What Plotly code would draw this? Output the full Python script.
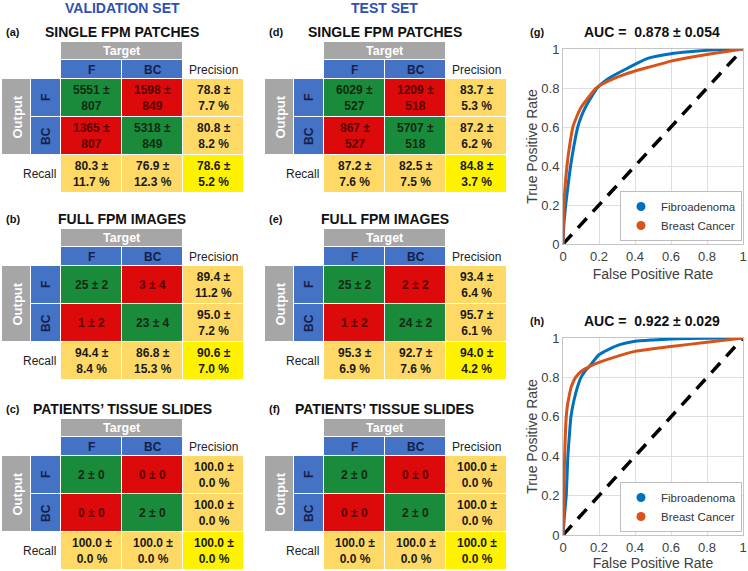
import plotly.graph_objects as go

W, H = 748, 571
FONT = "Liberation Sans, Arial, sans-serif"

# ---------------- data ----------------
set_titles = ["VALIDATION SET", "TEST SET"]
panel_letters = ["(a)", "(b)", "(c)", "(d)", "(e)", "(f)"]
panel_titles = ["SINGLE FPM PATCHES", "FULL FPM IMAGES", "PATIENTS\u2019 TISSUE SLIDES",
                "SINGLE FPM PATCHES", "FULL FPM IMAGES", "PATIENTS\u2019 TISSUE SLIDES"]
class_labels = ["F", "BC"]

cm_mean = [[[5551, 1598], [1365, 5318]],
           [[25, 3], [1, 23]],
           [[2, 0], [0, 2]],
           [[6029, 1209], [867, 5707]],
           [[25, 2], [1, 24]],
           [[2, 0], [0, 2]]]
cm_std = [[[807, 849], [807, 849]],
          [[2, 4], [2, 4]],
          [[0, 0], [0, 0]],
          [[527, 518], [527, 518]],
          [[2, 2], [2, 2]],
          [[0, 0], [0, 0]]]
precision_mean = [[78.8, 80.8], [89.4, 95.0], [100.0, 100.0], [83.7, 87.2], [93.4, 95.7], [100.0, 100.0]]
precision_std = [[7.7, 8.2], [11.2, 7.2], [0.0, 0.0], [5.3, 6.2], [6.4, 6.1], [0.0, 0.0]]
recall_mean = [[80.3, 76.9], [94.4, 86.8], [100.0, 100.0], [87.2, 82.5], [95.3, 92.7], [100.0, 100.0]]
recall_std = [[11.7, 12.3], [8.4, 15.3], [0.0, 0.0], [7.6, 7.5], [6.9, 7.6], [0.0, 0.0]]
accuracy_mean = [78.6, 90.6, 100.0, 84.8, 94.0, 100.0]
accuracy_std = [5.2, 7.0, 0.0, 3.7, 4.2, 0.0]

roc_titles = ["AUC =\u00a0 0.878 \u00b1 0.054", "AUC =\u00a0 0.922 \u00b1 0.029"]
roc_letters = ["(g)", "(h)"]
series_names = ["Fibroadenoma", "Breast Cancer"]

g_fib_fpr = [0, 0.005, 0.015, 0.028, 0.042, 0.06, 0.082, 0.10, 0.124, 0.155, 0.19, 0.255, 0.355, 0.47, 0.6, 0.7, 0.8, 0.9, 1.0]
g_fib_tpr = [0, 0.10, 0.20, 0.30, 0.40, 0.50, 0.60, 0.65, 0.70, 0.75, 0.80, 0.85, 0.90, 0.952, 0.976, 0.986, 0.993, 0.998, 1.0]
g_bc_fpr = [0, 0.002, 0.005, 0.012, 0.022, 0.036, 0.055, 0.075, 0.10, 0.14, 0.185, 0.25, 0.32, 0.40, 0.47, 0.6, 0.7, 0.8, 0.9, 1.0]
g_bc_tpr = [0, 0.10, 0.20, 0.30, 0.40, 0.50, 0.60, 0.65, 0.70, 0.75, 0.80, 0.835, 0.862, 0.887, 0.905, 0.938, 0.956, 0.972, 0.986, 1.0]

h_fib_fpr = [0, 0.008, 0.018, 0.027, 0.035, 0.044, 0.06, 0.08, 0.10, 0.125, 0.146, 0.2, 0.3, 0.4, 0.5, 0.6, 0.8, 1.0]
h_fib_tpr = [0, 0.10, 0.20, 0.40, 0.50, 0.60, 0.68, 0.75, 0.80, 0.835, 0.855, 0.915, 0.961, 0.983, 0.99, 0.995, 0.999, 1.0]
h_bc_fpr = [0, 0.003, 0.005, 0.009, 0.018, 0.025, 0.033, 0.045, 0.07, 0.10, 0.146, 0.2, 0.3, 0.4, 0.6, 0.8, 1.0]
h_bc_tpr = [0, 0.10, 0.20, 0.40, 0.60, 0.66, 0.70, 0.75, 0.80, 0.83, 0.855, 0.876, 0.907, 0.932, 0.957, 0.978, 1.0]

chance_x = [0, 1]
chance_y = [0, 1]

roc_ticks = [0, 0.2, 0.4, 0.6, 0.8, 1]
roc_tick_text = ["0", "0.2", "0.4", "0.6", "0.8", "1"]

# ---------------- layout constants ----------------
COL_EDGES = [0, 29, 59, 120, 181, 242]
ROW_EDGES = [0, 18, 37, 75, 113, 151]
panel_origin = [(2, 42), (2, 229), (2, 419), (265, 42), (265, 229), (265, 419)]

GRAY, BLUE, GREEN, RED, LYEL, YEL = 0, 1, 2, 3, 4, 5
cat_colors = ["#A6A6A6", "#4472C4", "#1A8A3B", "#DC0A0A", "#FFD966", "#FFF200"]
colorscale = []
for k, c in enumerate(cat_colors):
    colorscale += [[k / 6, c], [(k + 1) / 6, c]]

C_BLUE = "#0072BD"
C_ORANGE = "#D95319"


def px(x):
    return x / W


def py(y):
    return 1 - y / H


def cnt(m, s):
    return f"{m} \u00b1<br>{s}" if m >= 100 else f"{m} \u00b1 {s}"


def pct(m, s):
    return f"{m:.1f} \u00b1<br>{s:.1f} %"


def mid(e, i):
    return (e[i] + e[i + 1]) / 2


def paper_text(text, x, y, size, color, xanchor="center"):
    return dict(text=text, x=px(x), y=py(y), xref="paper", yref="paper", showarrow=False,
                xanchor=xanchor, yanchor="middle",
                font=dict(family=FONT, size=size, color=color))


fig = go.Figure()
annotations = []
layout_axes = {}

grid_cats = [[None, None, None, None, None],
             [None, None, BLUE, BLUE, None],
             [None, BLUE, GREEN, RED, LYEL],
             [None, BLUE, RED, GREEN, LYEL],
             [None, None, LYEL, LYEL, YEL]]

for i in range(6):
    n = i + 1
    xa = "x" if n == 1 else f"x{n}"
    ya = "y" if n == 1 else f"y{n}"
    ox, oy = panel_origin[i]
    layout_axes["xaxis" if n == 1 else f"xaxis{n}"] = dict(
        domain=[px(ox), px(ox + COL_EDGES[-1])], range=[0, COL_EDGES[-1]],
        visible=False, fixedrange=True, anchor=ya)
    layout_axes["yaxis" if n == 1 else f"yaxis{n}"] = dict(
        domain=[py(oy + ROW_EDGES[-1]), py(oy)], range=[ROW_EDGES[-1], 0],
        visible=False, fixedrange=True, anchor=xa)

    hm = dict(colorscale=colorscale, zmin=-0.5, zmax=5.5, showscale=False,
              hoverinfo="skip", xgap=1, ygap=1, xaxis=xa, yaxis=ya)
    fig.add_trace(go.Heatmap(z=grid_cats, x=COL_EDGES, y=ROW_EDGES, **hm))
    fig.add_trace(go.Heatmap(z=[[GRAY]], x=[COL_EDGES[2], COL_EDGES[4]],
                             y=[ROW_EDGES[0], ROW_EDGES[1]], **hm))
    fig.add_trace(go.Heatmap(z=[[GRAY]], x=[COL_EDGES[0], COL_EDGES[1]],
                             y=[ROW_EDGES[2], ROW_EDGES[4]], **hm))

    def ann(text, x, y, size=12, color="#1a1a1a", angle=0, xanchor="center"):
        annotations.append(dict(text=text, x=x, y=y, xref=xa, yref=ya, showarrow=False,
                                textangle=angle, xanchor=xanchor, yanchor="middle",
                                font=dict(family=FONT, size=size, color=color)))

    ann("<b>Target</b>", (COL_EDGES[2] + COL_EDGES[4]) / 2, mid(ROW_EDGES, 0), 12.5, "white")
    ann("<b>Output</b>", mid(COL_EDGES, 0), (ROW_EDGES[2] + ROW_EDGES[4]) / 2, 13, "white", -90)
    for k in range(2):
        ann(f"<b>{class_labels[k]}</b>", mid(COL_EDGES, 2 + k), mid(ROW_EDGES, 1), 12, "#16204a")
        ann(f"<b>{class_labels[k]}</b>", mid(COL_EDGES, 1), mid(ROW_EDGES, 2 + k), 12, "#16204a", -90)
    ann("Precision", mid(COL_EDGES, 4), mid(ROW_EDGES, 1), 12, "#222222")
    ann("Recall", COL_EDGES[2] - 3, mid(ROW_EDGES, 4), 12, "#222222", xanchor="right")
    for r in range(2):
        for c in range(2):
            col = "#102a14" if r == c else "#5a0000"
            ann(f"<b>{cnt(cm_mean[i][r][c], cm_std[i][r][c])}</b>",
                mid(COL_EDGES, 2 + c), mid(ROW_EDGES, 2 + r), 12, col)
        ann(f"<b>{pct(precision_mean[i][r], precision_std[i][r])}</b>",
            mid(COL_EDGES, 4), mid(ROW_EDGES, 2 + r), 12)
        ann(f"<b>{pct(recall_mean[i][r], recall_std[i][r])}</b>",
            mid(COL_EDGES, 2 + r), mid(ROW_EDGES, 4), 12)
    ann(f"<b>{pct(accuracy_mean[i], accuracy_std[i])}</b>",
        mid(COL_EDGES, 4), mid(ROW_EDGES, 4), 12)

    cx = ox + (COL_EDGES[2] + COL_EDGES[4]) / 2
    annotations.append(paper_text(f"<b>{panel_titles[i]}</b>", cx, oy - 10, 14, "#111111"))
    annotations.append(paper_text(f"<b>{panel_letters[i]}</b>", ox + 2, oy - 10, 11, "#111111",
                                  xanchor="left"))

for j, t in enumerate(set_titles):
    cx = panel_origin[3 * j][0] + (COL_EDGES[2] + COL_EDGES[4]) / 2
    annotations.append(paper_text(f"<b>{t}</b>", cx, 8, 14, "#2F4FB5"))

# ---------------- ROC plots ----------------
roc_top = [49, 338]
roc_bot = [244, 535]
roc_left, roc_right = 563, 743
roc_curves = [((g_fib_fpr, g_fib_tpr), (g_bc_fpr, g_bc_tpr)),
              ((h_fib_fpr, h_fib_tpr), (h_bc_fpr, h_bc_tpr))]

for j in range(2):
    n = 7 + j
    xa, ya = f"x{n}", f"y{n}"
    leg = "legend" if j == 0 else "legend2"
    axis_common = dict(range=[0, 1], tickvals=roc_ticks, ticktext=roc_tick_text,
                       showgrid=True, gridcolor="#dedede", showline=True, mirror=True,
                       linecolor="#c4c4c4", zeroline=False, ticks="", fixedrange=True,
                       automargin=False,
                       tickfont=dict(family=FONT, size=13, color="#404040"))
    layout_axes[f"xaxis{n}"] = dict(
        domain=[px(roc_left), px(roc_right)], anchor=ya,
        title=dict(text="False Positive Rate", standoff=6,
                   font=dict(family=FONT, size=14, color="#404040")), **axis_common)
    layout_axes[f"yaxis{n}"] = dict(
        domain=[py(roc_bot[j]), py(roc_top[j])], anchor=xa,
        title=dict(text="True Positive Rate", standoff=0,
                   font=dict(family=FONT, size=14, color="#404040")), **axis_common)

    fig.add_trace(go.Scatter(x=chance_x, y=chance_y, mode="lines", xaxis=xa, yaxis=ya,
                             line=dict(color="black", width=3.5, dash="13px,9px"),
                             showlegend=False, hoverinfo="skip"))
    (fx, fy), (bx, by) = roc_curves[j]
    fig.add_trace(go.Scatter(x=fx, y=fy, mode="lines", xaxis=xa, yaxis=ya,
                             line=dict(color=C_BLUE, width=3, shape="spline", smoothing=0.5),
                             showlegend=False, hoverinfo="skip", cliponaxis=False))
    fig.add_trace(go.Scatter(x=bx, y=by, mode="lines", xaxis=xa, yaxis=ya,
                             line=dict(color=C_ORANGE, width=3, shape="spline", smoothing=0.5),
                             showlegend=False, hoverinfo="skip", cliponaxis=False))
    for name, colr in zip(series_names, [C_BLUE, C_ORANGE]):
        fig.add_trace(go.Scatter(x=[None], y=[None], mode="markers", name=name,
                                 xaxis=xa, yaxis=ya, legend=leg,
                                 marker=dict(color=colr, size=9, symbol="circle")))

    annotations.append(paper_text(f"<b>{roc_titles[j]}</b>", 652, roc_top[j] - 17, 14, "#111111"))
    annotations.append(paper_text(f"<b>{roc_letters[j]}</b>", 528, roc_top[j] - 17, 11, "#111111",
                                  xanchor="left"))

legend_common = dict(xref="paper", yref="paper", xanchor="right", yanchor="bottom",
                     bgcolor="white", bordercolor="#bdbdbd", borderwidth=1,
                     font=dict(family=FONT, size=11.5, color="#333333"),
                     itemwidth=30, tracegroupgap=0)

fig.update_layout(
    width=W, height=H, autosize=False,
    margin=dict(l=0, r=0, t=0, b=0),
    paper_bgcolor="white", plot_bgcolor="white",
    annotations=annotations,
    legend=dict(x=px(742), y=py(241), **legend_common),
    legend2=dict(x=px(742), y=py(532), **legend_common),
    **layout_axes,
)

fig.write_html("out.html", config={"displayModeBar": False},
               post_script="document.body.style.margin='0';document.body.style.overflow='hidden';")
